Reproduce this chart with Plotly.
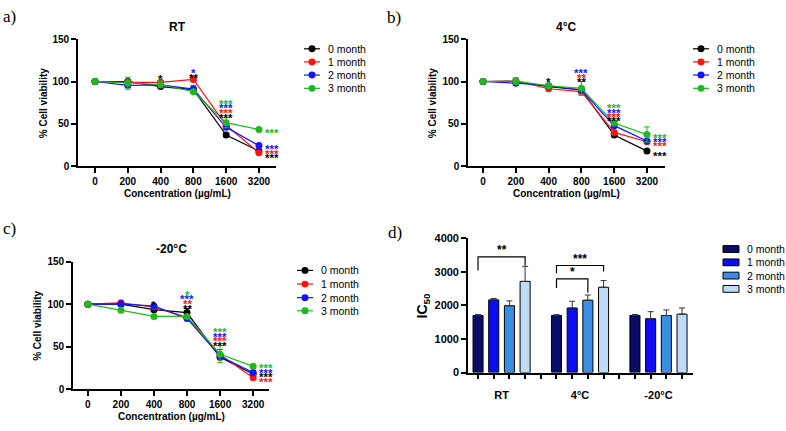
import plotly.graph_objects as go

W, H = 786, 431

conc_labels = ["0", "200", "400", "800", "1600", "3200"]
months = ["0 month", "1 month", "2 month", "3 month"]
line_colors = ["#000000", "#ff1414", "#1414ff", "#1fb81f"]
bar_colors = ["#0a0a68", "#0c0cf2", "#3b8ee8", "#c0dbf6"]

# Panel a (RT) - % cell viability
rt_vals = [[100, 100, 94, 90.5, 37, 18],
           [100, 99, 99, 102.5, 48.5, 16],
           [100, 95.5, 96, 91, 46, 24.5],
           [100, 98, 96.5, 88, 51.5, 43.5]]
rt_err = [[0.5, 1, 1.5, 2, 1, 1],
          [0.5, 1, 2, 2, 2, 1],
          [0.5, 1, 1, 4, 2, 1],
          [0.5, 7, 4, 1, 6, 1]]

# Panel b (4°C)
c4_vals = [[100, 100, 94, 90, 37, 18],
           [100, 100.8, 91.5, 88, 40, 29],
           [100, 98, 95, 90, 48, 30],
           [100, 100.4, 95, 92, 51, 37.5]]
c4_err = [[0.5, 1, 2, 1, 1, 1],
          [0.5, 1, 1, 4, 2, 1],
          [0.5, 1, 1, 2, 2, 1],
          [0.5, 4, 2, 8, 3, 9]]

# Panel c (-20°C)
m20_vals = [[100, 100, 93.5, 90, 37.4, 17.6],
            [100, 101.5, 96.6, 84.4, 40.5, 13.4],
            [100, 100.4, 97.7, 83.2, 38.5, 19.5],
            [100, 92.7, 85.5, 85.5, 41, 26.7]]
m20_err = [[0.5, 1, 2, 5, 1, 1],
           [0.5, 1, 1, 1, 6, 1],
           [0.5, 1, 1, 1, 2, 1],
           [0.5, 1, 2, 1, 10, 1]]

# Panel d - IC50
groups = ["RT", "4°C", "-20°C"]
ic50 = [[1700, 1700, 1700],
        [2165, 1923, 1604],
        [1990, 2155, 1700],
        [2716, 2541, 1740]]
ic50_err = [[30, 25, 30],
            [40, 200, 210],
            [145, 155, 165],
            [450, 200, 185]]

# Significance marks: (x index, y value, series index, text, placement)
rt_sig = [(2, 106, 0, "*", "c"), (3, 114, 2, "*", "c"), (3, 107.5, 0, "**", "c"),
          (4, 76.7, 3, "***", "c"), (4, 72, 2, "***", "c"), (4, 66.5, 1, "***", "c"), (4, 61, 0, "***", "c"),
          (5, 42.6, 3, "***", "r"), (5, 23.6, 2, "***", "r"), (5, 18, 1, "***", "r"), (5, 12.9, 0, "***", "r")]
c4_sig = [(2, 102.5, 0, "*", "c"), (3, 113, 2, "***", "c"), (3, 108, 1, "**", "c"), (3, 103, 0, "**", "c"),
          (4, 72, 3, "***", "c"), (4, 67, 2, "***", "c"), (4, 61.6, 1, "***", "c"), (4, 56.6, 0, "***", "c"),
          (5, 36.9, 3, "***", "r"), (5, 32, 2, "***", "r"), (5, 27, 1, "***", "r"), (5, 16.3, 0, "***", "r")]
m20_sig = [(2, 103, 0, "*", "c"), (3, 114.5, 3, "*", "c"), (3, 109, 2, "***", "c"), (3, 103.5, 1, "**", "c"),
           (3, 98, 0, "**", "c"),
           (4, 70.6, 3, "***", "c"), (4, 65.3, 2, "***", "c"), (4, 60, 1, "***", "c"), (4, 54, 0, "***", "c"),
           (5, 28.6, 3, "***", "r"), (5, 23, 2, "***", "r"), (5, 17.6, 0, "***", "r"), (5, 12.2, 1, "***", "r")]

# IC50 brackets: (bar slot left, bar slot right, bracket y, left leg end, right leg end, text)
ic50_brackets = [(0, 3, 3450, 3043, 3188, "**"),
                 (5, 8, 3190, 2957, 3014, "***"),
                 (5, 7, 2790, 2522, 2377, "*")]

FONT = "Liberation Sans, Arial, sans-serif"
SERIF = "Liberation Serif, Times New Roman, serif"


def xp(px):
    return px / W


def yp(py):
    return 1 - py / H


fig = go.Figure()

line_panels = [
    (rt_vals, rt_err, rt_sig, "x", "y"),
    (c4_vals, c4_err, c4_sig, "x2", "y2"),
    (m20_vals, m20_err, m20_sig, "x3", "y3"),
]
xidx = list(range(len(conc_labels)))
annotations = []
shapes = []
for vals, errs, sigs, xa, ya in line_panels:
    for i in range(len(months)):
        fig.add_trace(go.Scatter(
            x=xidx, y=vals[i], xaxis=xa, yaxis=ya, mode="lines+markers",
            line=dict(color=line_colors[i], width=1.2),
            marker=dict(color=line_colors[i], size=7),
            error_y=dict(type="data", array=errs[i], color=line_colors[i], thickness=1, width=3),
            showlegend=False, cliponaxis=False))
    for (xi, yv, si, txt, pl) in sigs:
        annotations.append(dict(
            x=xidx[xi], y=yv, xref=xa, yref=ya, text=txt, showarrow=False,
            font=dict(family=FONT, size=11.5, color=line_colors[si], weight="bold"),
            xanchor="center" if pl == "c" else "left",
            xshift=0 if pl == "c" else 4, yshift=-3))

for m in range(len(months)):
    fig.add_trace(go.Bar(
        x=[g * 5 + m for g in range(len(groups))], y=ic50[m], xaxis="x4", yaxis="y4",
        width=0.64, marker=dict(color=bar_colors[m], line=dict(color="black", width=1)),
        error_y=dict(type="data", array=ic50_err[m], arrayminus=[0] * len(groups), symmetric=False,
                     color="#333333", thickness=1, width=3),
        showlegend=False))

for (x0, x1, yb, yl, yr, txt) in ic50_brackets:
    shapes.append(dict(type="path", xref="x4", yref="y4",
                       path=f"M {x0},{yl} L {x0},{yb} L {x1},{yb} L {x1},{yr}",
                       line=dict(color="black", width=1.2)))
    annotations.append(dict(x=(x0 + x1) / 2, y=yb, xref="x4", yref="y4", text=txt, showarrow=False,
                            font=dict(family=FONT, size=12, color="black", weight="bold"),
                            yanchor="bottom", yshift=-2))

axis_common = dict(showline=True, linewidth=1.6, linecolor="black", ticks="outside", ticklen=5,
                   tickwidth=1.6, tickcolor="black", showgrid=False, zeroline=False,
                   tickfont=dict(family=FONT, size=10, color="black", weight="bold"))

line_dom = [
    ("xaxis", "yaxis", "y", "x", (78, 276), (-0.52, 5.52), (34, 165)),
    ("xaxis2", "yaxis2", "y2", "x2", (468, 665), (-0.46, 5.55), (34, 165)),
    ("xaxis3", "yaxis3", "y3", "x3", (73, 269), (-0.45, 5.48), (263, 394)),
]
layout_axes = {}
for xk, yk, ya, xa, xdom, xr, ydom in line_dom:
    layout_axes[xk] = dict(axis_common, domain=[xp(xdom[0]), xp(xdom[1])], range=list(xr), anchor=ya,
                           tickmode="array", tickvals=xidx, ticktext=conc_labels)
    layout_axes[yk] = dict(axis_common, domain=[yp(ydom[1]), yp(ydom[0])], range=[0, 150], anchor=xa,
                           tickmode="array", tickvals=[0, 50, 100, 150])

layout_axes["xaxis4"] = dict(axis_common, domain=[xp(468), xp(693)], range=[-0.64, 13.7], anchor="y4",
                             tickmode="array", tickvals=[g * 5 + 1.5 for g in range(len(groups))],
                             ticktext=groups, tickcolor="rgba(0,0,0,0)", ticklen=11,
                             tickfont=dict(family=FONT, size=11, color="black", weight="bold"),
                             minor=dict(tickvals=list(range(14)), ticks="outside", ticklen=5,
                                        tickwidth=1.6, tickcolor="black"))
layout_axes["yaxis4"] = dict(axis_common, domain=[yp(377), yp(239)], range=[0, 4000], anchor="x4",
                             tickmode="array", tickvals=[0, 1000, 2000, 3000, 4000],
                             tickfont=dict(family=FONT, size=11, color="black", weight="bold"))

# Titles, axis titles, panel letters
texts = [
    ("RT", 177, 22, 12, "bold", 0), ("4°C", 566, 22, 12, "bold", 0), ("-20°C", 171, 250, 12, "bold", 0),
    ("Concentration (µg/mL)", 177, 193, 10, "bold", 0), ("Concentration (µg/mL)", 566, 193, 10, "bold", 0),
    ("Concentration (µg/mL)", 171, 422, 10, "bold", 0),
    ("% Cell viability", 43, 100, 10, "bold", -90), ("% Cell viability", 432, 100, 10, "bold", -90),
    ("% Cell viability", 38, 329, 10, "bold", -90),
    ("IC<sub>50</sub>", 423, 308, 14, "bold", -90),
]
for t, x, y, s, w, ang in texts:
    annotations.append(dict(x=xp(x), y=yp(y), xref="paper", yref="paper", text=t, showarrow=False,
                            textangle=ang, xanchor="center", yanchor="middle",
                            font=dict(family=FONT, size=s, color="black", weight=w)))
for t, x, y in [("a)", 1, 11), ("b)", 385, 12), ("c)", 1, 229), ("d)", 386, 233)]:
    annotations.append(dict(x=xp(x), y=yp(y), xref="paper", yref="paper", text=t, showarrow=False,
                            xanchor="left", yanchor="middle",
                            font=dict(family=SERIF, size=17, color="black")))

# Line legends (manual)
for mx, rows in [(312, [44, 57.5, 71, 84.7]), (701, [44, 57.5, 71, 84.7]), (305, [272, 286, 300, 313.5])]:
    for i, ry in enumerate(rows):
        shapes.append(dict(type="line", xref="paper", yref="paper", x0=xp(mx - 8), x1=xp(mx + 8),
                           y0=yp(ry), y1=yp(ry), line=dict(color=line_colors[i], width=1.2)))
        shapes.append(dict(type="circle", xref="paper", yref="paper", x0=xp(mx - 3.5), x1=xp(mx + 3.5),
                           y0=yp(ry + 3.5), y1=yp(ry - 3.5), fillcolor=line_colors[i],
                           line=dict(color=line_colors[i], width=0)))
        annotations.append(dict(x=xp(mx + 14), y=yp(ry), xref="paper", yref="paper", text=months[i],
                                showarrow=False, xanchor="left", yanchor="middle",
                                font=dict(family=FONT, size=10.5, color="black")))

# Bar legend (manual)
for i, ry in enumerate([250, 263.7, 277.3, 291]):
    shapes.append(dict(type="rect", xref="paper", yref="paper", x0=xp(723), x1=xp(739),
                       y0=yp(ry + 3.5), y1=yp(ry - 3.5), fillcolor=bar_colors[i],
                       line=dict(color="black", width=1)))
    annotations.append(dict(x=xp(745), y=yp(ry), xref="paper", yref="paper", text=months[i],
                            showarrow=False, xanchor="left", yanchor="middle",
                            font=dict(family=FONT, size=10.5, color="black")))

fig.update_layout(width=W, height=H, margin=dict(l=0, r=0, t=0, b=0), plot_bgcolor="white",
                  paper_bgcolor="white", showlegend=False, barmode="overlay",
                  annotations=annotations, shapes=shapes, **layout_axes)

fig.write_html("out.html")
